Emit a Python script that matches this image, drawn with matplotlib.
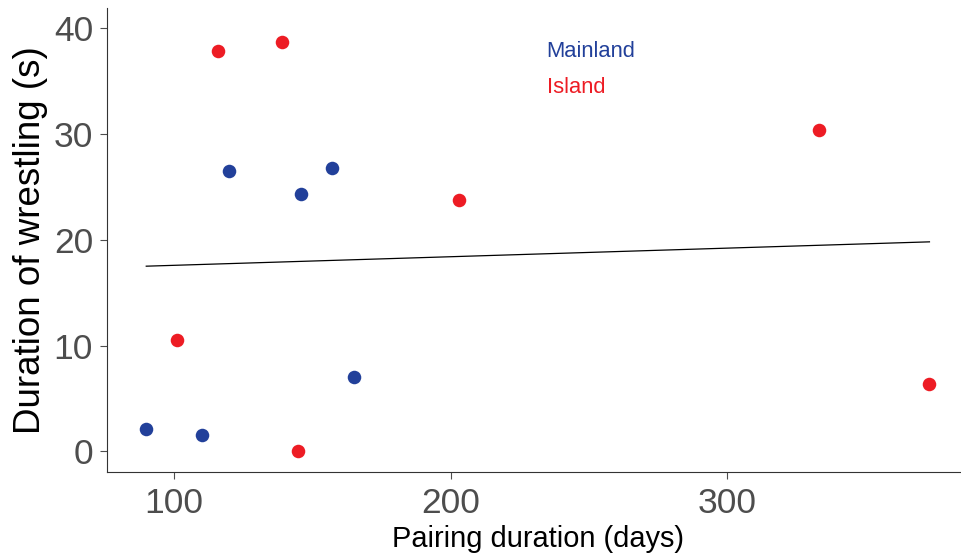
import numpy as np
import matplotlib as mpl
import matplotlib.pyplot as plt

mpl.rcParams['font.family'] = ['Liberation Sans', 'DejaVu Sans']

# DATA
mainland_days = [90, 110, 120, 146, 157, 165]
mainland_wrestle = [2.1, 1.5, 26.5, 24.3, 26.8, 7.0]
island_days = [101, 116, 139, 145, 203, 333, 373]
island_wrestle = [10.5, 37.8, 38.7, 0.0, 23.8, 30.4, 6.4]
fit_days = [90, 373]
fit_wrestle = [17.5, 19.8]

blue = '#22409A'
red = '#ED1C24'
grey = '#4D4D4D'

fig = plt.figure(figsize=(9.61, 5.56), dpi=100)
ax = fig.add_axes([0.1113, 0.1511, 0.8887, 0.8345])

ax.plot(fit_days, fit_wrestle, color='black', lw=0.9, zorder=2)
ax.scatter(mainland_days, mainland_wrestle, s=95, color=blue, lw=0, zorder=3)
ax.scatter(island_days, island_wrestle, s=95, color=red, lw=0, zorder=3)

ax.text(234.7, 37.8, 'Mainland', color=blue, fontsize=15.8, va='center', ha='left')
ax.text(234.7, 34.4, 'Island', color=red, fontsize=15.8, va='center', ha='left')

ax.set_xlim(75.8, 384.4)
ax.set_ylim(-1.95, 41.9)
ax.set_xticks([100, 200, 300])
ax.set_yticks([0, 10, 20, 30, 40])
ax.tick_params(labelsize=25.5, labelcolor=grey, color=grey, length=5, width=0.8, pad=5)
ax.tick_params(axis='x', pad=6)

ax.set_xlabel('Pairing duration (days)', fontsize=20.9)
ax.xaxis.set_label_coords(0.5045, -0.114)
ax.set_ylabel('Duration of wrestling (s)', fontsize=26.5)
ax.yaxis.set_label_coords(-0.069, 0.5)

ax.spines['top'].set_visible(False)
ax.spines['right'].set_visible(False)
ax.spines['left'].set_color('#333333')
ax.spines['bottom'].set_color('#333333')

fig.savefig('out.png', dpi=100)
